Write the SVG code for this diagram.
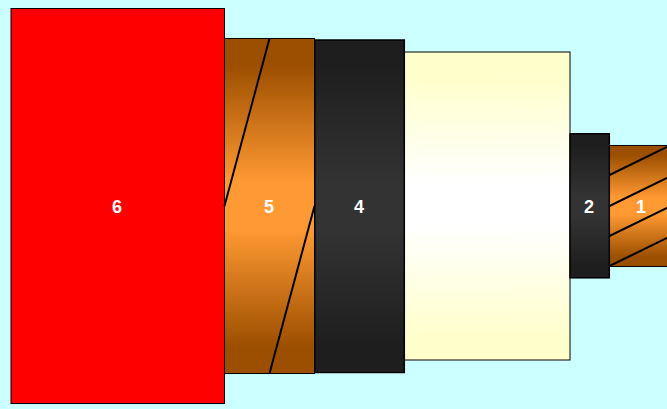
<svg xmlns="http://www.w3.org/2000/svg" width="667" height="409" viewBox="0 0 667 409">
<defs>
<linearGradient id="cu" x1="0" y1="0" x2="0" y2="1"><stop offset="0" stop-color="#9c4f00"/><stop offset="0.08" stop-color="#9c4f00"/><stop offset="0.43" stop-color="#ff9933"/><stop offset="0.57" stop-color="#ff9933"/><stop offset="0.92" stop-color="#9c4f00"/><stop offset="1" stop-color="#9c4f00"/></linearGradient>
<linearGradient id="dark" x1="0" y1="0" x2="0" y2="1"><stop offset="0" stop-color="#1e1e1e"/><stop offset="0.08" stop-color="#1e1e1e"/><stop offset="0.43" stop-color="#333333"/><stop offset="0.57" stop-color="#333333"/><stop offset="0.92" stop-color="#1e1e1e"/><stop offset="1" stop-color="#1e1e1e"/></linearGradient>
<linearGradient id="ins" x1="0" y1="0" x2="0" y2="1"><stop offset="0" stop-color="#ffffcc"/><stop offset="0.08" stop-color="#ffffcc"/><stop offset="0.43" stop-color="#ffffff"/><stop offset="0.57" stop-color="#ffffff"/><stop offset="0.92" stop-color="#ffffcc"/><stop offset="1" stop-color="#ffffcc"/></linearGradient>
</defs>
<style>
.o{stroke:#000;stroke-width:1}
.t{stroke:#000;stroke-width:1.5}
.w{fill:none;stroke:#000;stroke-width:2}
text{font-family:"Liberation Sans",Arial,sans-serif;font-size:18px;font-weight:bold;fill:#fff;text-anchor:middle}
</style>
<rect width="667" height="409" fill="#ccffff"/>
<g id="node-1"><rect class="o" x="609.5" y="145.5" width="60" height="121" fill="url(#cu)"/><text x="641" y="212.500">1</text></g>
<g id="node-3"><rect class="o" x="404.5" y="52" width="165.500" height="308" fill="url(#ins)"/></g>
<g id="node-2"><rect class="t" x="570" y="133.800" width="39.300" height="144" fill="url(#dark)"/><text x="589" y="213">2</text></g>
<g id="node-5"><rect class="o" x="224.500" y="38.500" width="90" height="335" fill="url(#cu)"/><text x="269" y="213">5</text></g>
<g id="node-4"><rect class="t" x="314.800" y="40" width="89.500" height="332.500" fill="url(#dark)"/><text x="359" y="213">4</text></g>
<g id="node-6"><rect class="o" x="11" y="8.500" width="213.500" height="395" fill="#ff0000"/><text x="117" y="213">6</text></g>
<g id="connectors">
<path class="w" d="M269.500 38.500L224.500 206M314.500 206L269.500 373.500"/>
<path class="w" d="M609.500 175L667 147M609.500 206L667 178M609.500 236L667 208M609.500 266L667 238"/>
</g>
</svg>
